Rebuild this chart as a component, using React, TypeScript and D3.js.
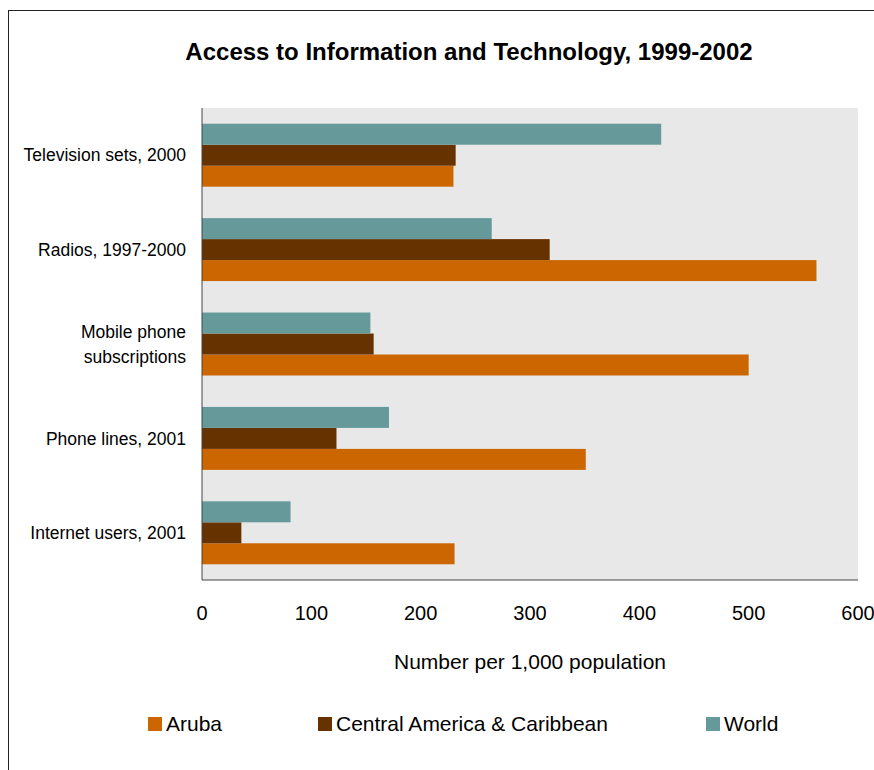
import React from 'react'
import * as d3 from 'd3'

const categories = [
  ['Television sets, 2000'],
  ['Radios, 1997-2000'],
  ['Mobile phone', 'subscriptions'],
  ['Phone lines, 2001'],
  ['Internet users, 2001'],
]
const seriesNames = ['Aruba', 'Central America & Caribbean', 'World']
const aruba = [230, 562, 500, 351, 231]
const centralAmerica = [232, 318, 157, 123, 36]
const world = [420, 265, 154, 171, 81]
const xTicks = [0, 100, 200, 300, 400, 500, 600]

const COLORS: Record<string, string> = {
  Aruba: '#cc6600',
  'Central America & Caribbean': '#663300',
  World: '#669999',
}

const FONT = '"Liberation Sans", Arial, sans-serif'

export default function App() {
  const width = 874
  const height = 770
  const plot = { left: 202, right: 858, top: 108, bottom: 580 }

  const values: Record<string, number[]> = {
    Aruba: aruba,
    'Central America & Caribbean': centralAmerica,
    World: world,
  }

  const x = d3.scaleLinear().domain([0, 600]).range([plot.left, plot.right])
  const y = d3
    .scaleBand<number>()
    .domain(d3.range(categories.length))
    .range([plot.top, plot.bottom])
    .paddingInner(0.333)
    .paddingOuter(0.1665)
  // World sits on top, Aruba at the bottom of each group
  const inner = d3
    .scaleBand<string>()
    .domain([...seriesNames].reverse())
    .range([0, y.bandwidth()])

  const legendX = [148, 318, 706]

  return (
    <svg
      width={width}
      height={height}
      style={{ display: 'block', position: 'absolute', left: 0, top: 0 }}
    >
      <rect x={8.5} y={10.5} width={900} height={800} fill="#fff" stroke="#222" strokeWidth={1} />
      <text
        x={469}
        y={60}
        textAnchor="middle"
        fontFamily={FONT}
        fontWeight="bold"
        fontSize={24}
        fill="#000"
      >
        Access to Information and Technology, 1999-2002
      </text>

      <rect
        x={plot.left}
        y={plot.top}
        width={plot.right - plot.left}
        height={plot.bottom - plot.top}
        fill="#e8e8e8"
      />

      {categories.map((_, i) =>
        seriesNames.map((s) => (
          <rect
            key={`${i}-${s}`}
            x={x(0)}
            y={(y(i) ?? 0) + (inner(s) ?? 0)}
            width={x(values[s][i]) - x(0)}
            height={inner.bandwidth()}
            fill={COLORS[s]}
          />
        ))
      )}

      <line x1={plot.left} x2={plot.left} y1={plot.top} y2={plot.bottom} stroke="#444" />
      <line x1={plot.left} x2={plot.right} y1={plot.bottom} y2={plot.bottom} stroke="#444" />

      {categories.map((lines, i) => {
        const cy = (y(i) ?? 0) + y.bandwidth() / 2
        const lh = 25
        const start = cy - ((lines.length - 1) * lh) / 2
        return (
          <text key={i} textAnchor="end" fontFamily={FONT} fontSize={17.5} fill="#000">
            {lines.map((l, j) => (
              <tspan key={j} x={186} y={start + j * lh} dy="0.35em">
                {l}
              </tspan>
            ))}
          </text>
        )
      })}

      {xTicks.map((t) => (
        <text
          key={t}
          x={x(t)}
          y={620}
          textAnchor="middle"
          fontFamily={FONT}
          fontSize={20}
          fill="#000"
        >
          {t}
        </text>
      ))}

      <text x={530} y={669} textAnchor="middle" fontFamily={FONT} fontSize={21} fill="#000">
        Number per 1,000 population
      </text>

      {seriesNames.map((s, i) => (
        <g key={s} transform={`translate(${legendX[i]},717)`}>
          <rect width={14} height={14} fill={COLORS[s]} />
          <text x={18} y={14} fontFamily={FONT} fontSize={21} fill="#000">
            {s}
          </text>
        </g>
      ))}
    </svg>
  )
}
